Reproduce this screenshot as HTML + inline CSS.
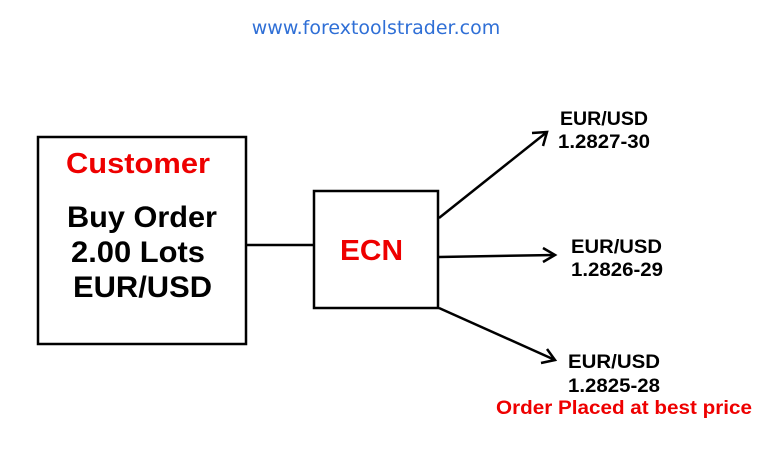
<!DOCTYPE html>
<html><head><style>body{margin:0;background:#fff}</style></head><body>
<svg width="768" height="450" xmlns="http://www.w3.org/2000/svg" font-family="Liberation Sans, Arial, sans-serif">
<rect width="768" height="450" fill="#fff"/>
<text x="376" y="34" text-anchor="middle" font-size="19" fill="#2f6fd6" font-family="DejaVu Sans, Liberation Sans, sans-serif">www.forextoolstrader.com</text>
<rect x="38" y="137" width="208" height="207" fill="none" stroke="#000" stroke-width="2.5"/>
<text x="66" y="173" font-size="29" font-weight="bold" fill="#e00" textLength="144" lengthAdjust="spacingAndGlyphs">Customer</text>
<g font-size="30" font-weight="bold">
<text x="67" y="227" textLength="150" lengthAdjust="spacingAndGlyphs">Buy Order</text>
<text x="71" y="262" textLength="134" lengthAdjust="spacingAndGlyphs">2.00 Lots</text>
<text x="73" y="297" textLength="139" lengthAdjust="spacingAndGlyphs">EUR/USD</text>
</g>
<line x1="246" y1="245" x2="314" y2="245" stroke="#000" stroke-width="2.5"/>
<rect x="314" y="191" width="124" height="117" fill="none" stroke="#000" stroke-width="2.5"/>
<text x="340" y="260" font-size="29" font-weight="bold" fill="#e00" textLength="63" lengthAdjust="spacingAndGlyphs">ECN</text>
<g stroke="#000" stroke-width="2.5" fill="none">
<line x1="439" y1="218" x2="547" y2="132"/><polyline points="532,133 547,132 543,146"/>
<line x1="439" y1="257" x2="555" y2="255"/><polyline points="543,248 555,255 543,262"/>
<line x1="439" y1="308" x2="555" y2="360"/><polyline points="541,363 555,360 547,349"/>
</g>
<g font-size="19" font-weight="bold" lengthAdjust="spacingAndGlyphs">
<text x="560" y="125" textLength="88" lengthAdjust="spacingAndGlyphs">EUR/USD</text>
<text x="558" y="148" textLength="92" lengthAdjust="spacingAndGlyphs">1.2827-30</text>
<text x="571" y="253" textLength="91" lengthAdjust="spacingAndGlyphs">EUR/USD</text>
<text x="571" y="276" textLength="92" lengthAdjust="spacingAndGlyphs">1.2826-29</text>
<text x="568" y="368" textLength="92" lengthAdjust="spacingAndGlyphs">EUR/USD</text>
<text x="568" y="392" textLength="92" lengthAdjust="spacingAndGlyphs">1.2825-28</text>
<text x="496" y="414" fill="#e00" textLength="256" lengthAdjust="spacingAndGlyphs">Order Placed at best price</text>
</g>
</svg>
</body></html>
